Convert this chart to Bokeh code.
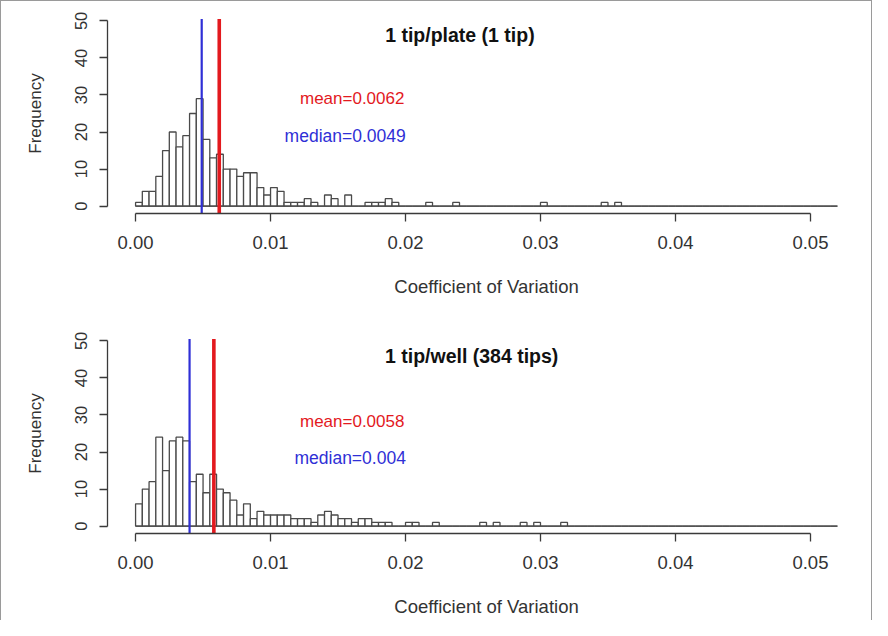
from bokeh.plotting import figure
from bokeh.layouts import column
from bokeh.models import Range1d, FixedTicker, NumeralTickFormatter, Label
from bokeh.embed import file_html
from bokeh.resources import INLINE
import numpy as np

# ---------------- data ----------------
bin_width = 0.0005
hist_end = 0.052

top_counts = [1, 4, 4, 8, 15, 20, 16, 19, 25, 29,
              18, 13, 14, 10, 10, 8, 9, 9, 5, 3,
              5, 4, 1, 1, 1, 2, 1, 0, 3, 2,
              0, 3, 0, 0, 1, 1, 1, 2, 1, 0,
              0, 0, 0, 1, 0, 0, 0, 1, 0, 0,
              0, 0, 0, 0, 0, 0, 0, 0, 0, 0,
              1, 0, 0, 0, 0, 0, 0, 0, 0, 1,
              0, 1]
bottom_counts = [6, 10, 12, 24, 15, 23, 24, 23, 12, 14,
                 9, 14, 10, 9, 7, 3, 6, 2, 4, 3,
                 3, 3, 3, 2, 2, 2, 1, 3, 4, 3,
                 2, 2, 1, 2, 2, 1, 1, 1, 0, 0,
                 1, 1, 0, 0, 1, 0, 0, 0, 0, 0,
                 0, 1, 0, 1, 0, 0, 0, 1, 0, 1,
                 0, 0, 0, 1]

top_title = "1 tip/plate (1 tip)"
bottom_title = "1 tip/well (384 tips)"
top_mean, top_median = 0.0062, 0.0049
bottom_mean, bottom_median = 0.0058, 0.004

x_ticks = [0.00, 0.01, 0.02, 0.03, 0.04, 0.05]
y_ticks = [0, 10, 20, 30, 40, 50]
x_label = "Coefficient of Variation"
y_label = "Frequency"

FONT = "Liberation Sans"
AX = "#3a3a3a"
RED = "#e3191e"
BLUE = "#2f2fd6"


def panel(counts, mean, median, title, height, border_bottom,
          title_pos, mean_pos, median_pos):
    n_bins = int(round(hist_end / bin_width))
    c = np.zeros(n_bins)
    c[:len(counts)] = counts
    edges = np.arange(n_bins + 1) * bin_width

    p = figure(width=870, height=height,
               x_range=Range1d(-0.00208, 0.05408), y_range=Range1d(-2, 52),
               output_backend="svg", toolbar_location=None,
               min_border_left=106, min_border_right=6,
               min_border_top=12, min_border_bottom=border_bottom)
    p.outline_line_color = None
    p.grid.visible = False
    p.background_fill_color = "white"
    p.border_fill_color = "white"

    p.quad(left=edges[:-1], right=edges[1:], bottom=0, top=c,
           fill_color="white", line_color="#4a4a4a", line_width=1.3)
    p.segment(x0=[edges[0]], y0=[0], x1=[edges[-1]], y1=[0],
              line_color="#4a4a4a", line_width=1.3)

    p.segment(x0=[median], y0=[-2], x1=[median], y1=[50.5],
              line_color=BLUE, line_width=2.2)
    p.segment(x0=[mean], y0=[-2], x1=[mean], y1=[50.5],
              line_color=RED, line_width=3.6)

    for ax in (p.xaxis, p.yaxis):
        ax.axis_line_color = AX
        ax.axis_line_width = 1.3
        ax.major_tick_line_color = AX
        ax.major_tick_line_width = 1.3
        ax.major_tick_out = 8
        ax.major_tick_in = 0
        ax.minor_tick_line_color = None
        ax.major_label_text_font = FONT
        ax.major_label_text_color = "#333333"
        ax.axis_label_text_font = FONT
        ax.axis_label_text_font_style = "normal"
        ax.axis_label_text_color = "#333333"

    p.xaxis.ticker = FixedTicker(ticks=x_ticks)
    p.xaxis.formatter = NumeralTickFormatter(format="0.00")
    p.xaxis.bounds = (x_ticks[0], x_ticks[-1])
    p.xaxis.major_label_text_font_size = "18.5px"
    p.xaxis.major_label_standoff = 14
    p.xaxis.axis_label = x_label
    p.xaxis.axis_label_text_font_size = "18.5px"
    p.xaxis.axis_label_standoff = 24

    p.yaxis.ticker = FixedTicker(ticks=y_ticks)
    p.yaxis.bounds = (y_ticks[0], y_ticks[-1])
    p.yaxis.major_label_orientation = "vertical"
    p.yaxis.major_label_text_font_size = "16.5px"
    p.yaxis.major_label_standoff = 12
    p.yaxis.axis_label = y_label
    p.yaxis.axis_label_text_font_size = "17px"
    p.yaxis.axis_label_standoff = 28

    p.add_layout(Label(x=title_pos[0], y=title_pos[1], text=title,
                       text_align="center", text_baseline="middle",
                       text_font=FONT, text_font_style="bold",
                       text_font_size="19.5px", text_color="#111111"))
    p.add_layout(Label(x=mean_pos[0], y=mean_pos[1], text=f"mean={mean}",
                       text_align="center", text_baseline="middle",
                       text_font=FONT, text_font_size="17px", text_color=RED))
    p.add_layout(Label(x=median_pos[0], y=median_pos[1], text=f"median={median}",
                       text_align="center", text_baseline="middle",
                       text_font=FONT, text_font_size="17.5px", text_color=BLUE))
    return p


p1 = panel(top_counts, top_mean, top_median, top_title, 320, 108,
           (0.02403, 46.3), (0.01605, 29.0), (0.01553, 19.0))
p2 = panel(bottom_counts, bottom_mean, bottom_median, bottom_title, 299, 87,
           (0.0249, 46.0), (0.01605, 28.2), (0.0159, 18.4))

layout = column(p1, p2, styles={"border-left": "1px solid #9a9a9a",
                                "border-top": "1px solid #9a9a9a",
                                "border-right": "1px solid #9a9a9a",
                                "background": "white"})

open("out.html", "w").write(file_html(layout, INLINE))
